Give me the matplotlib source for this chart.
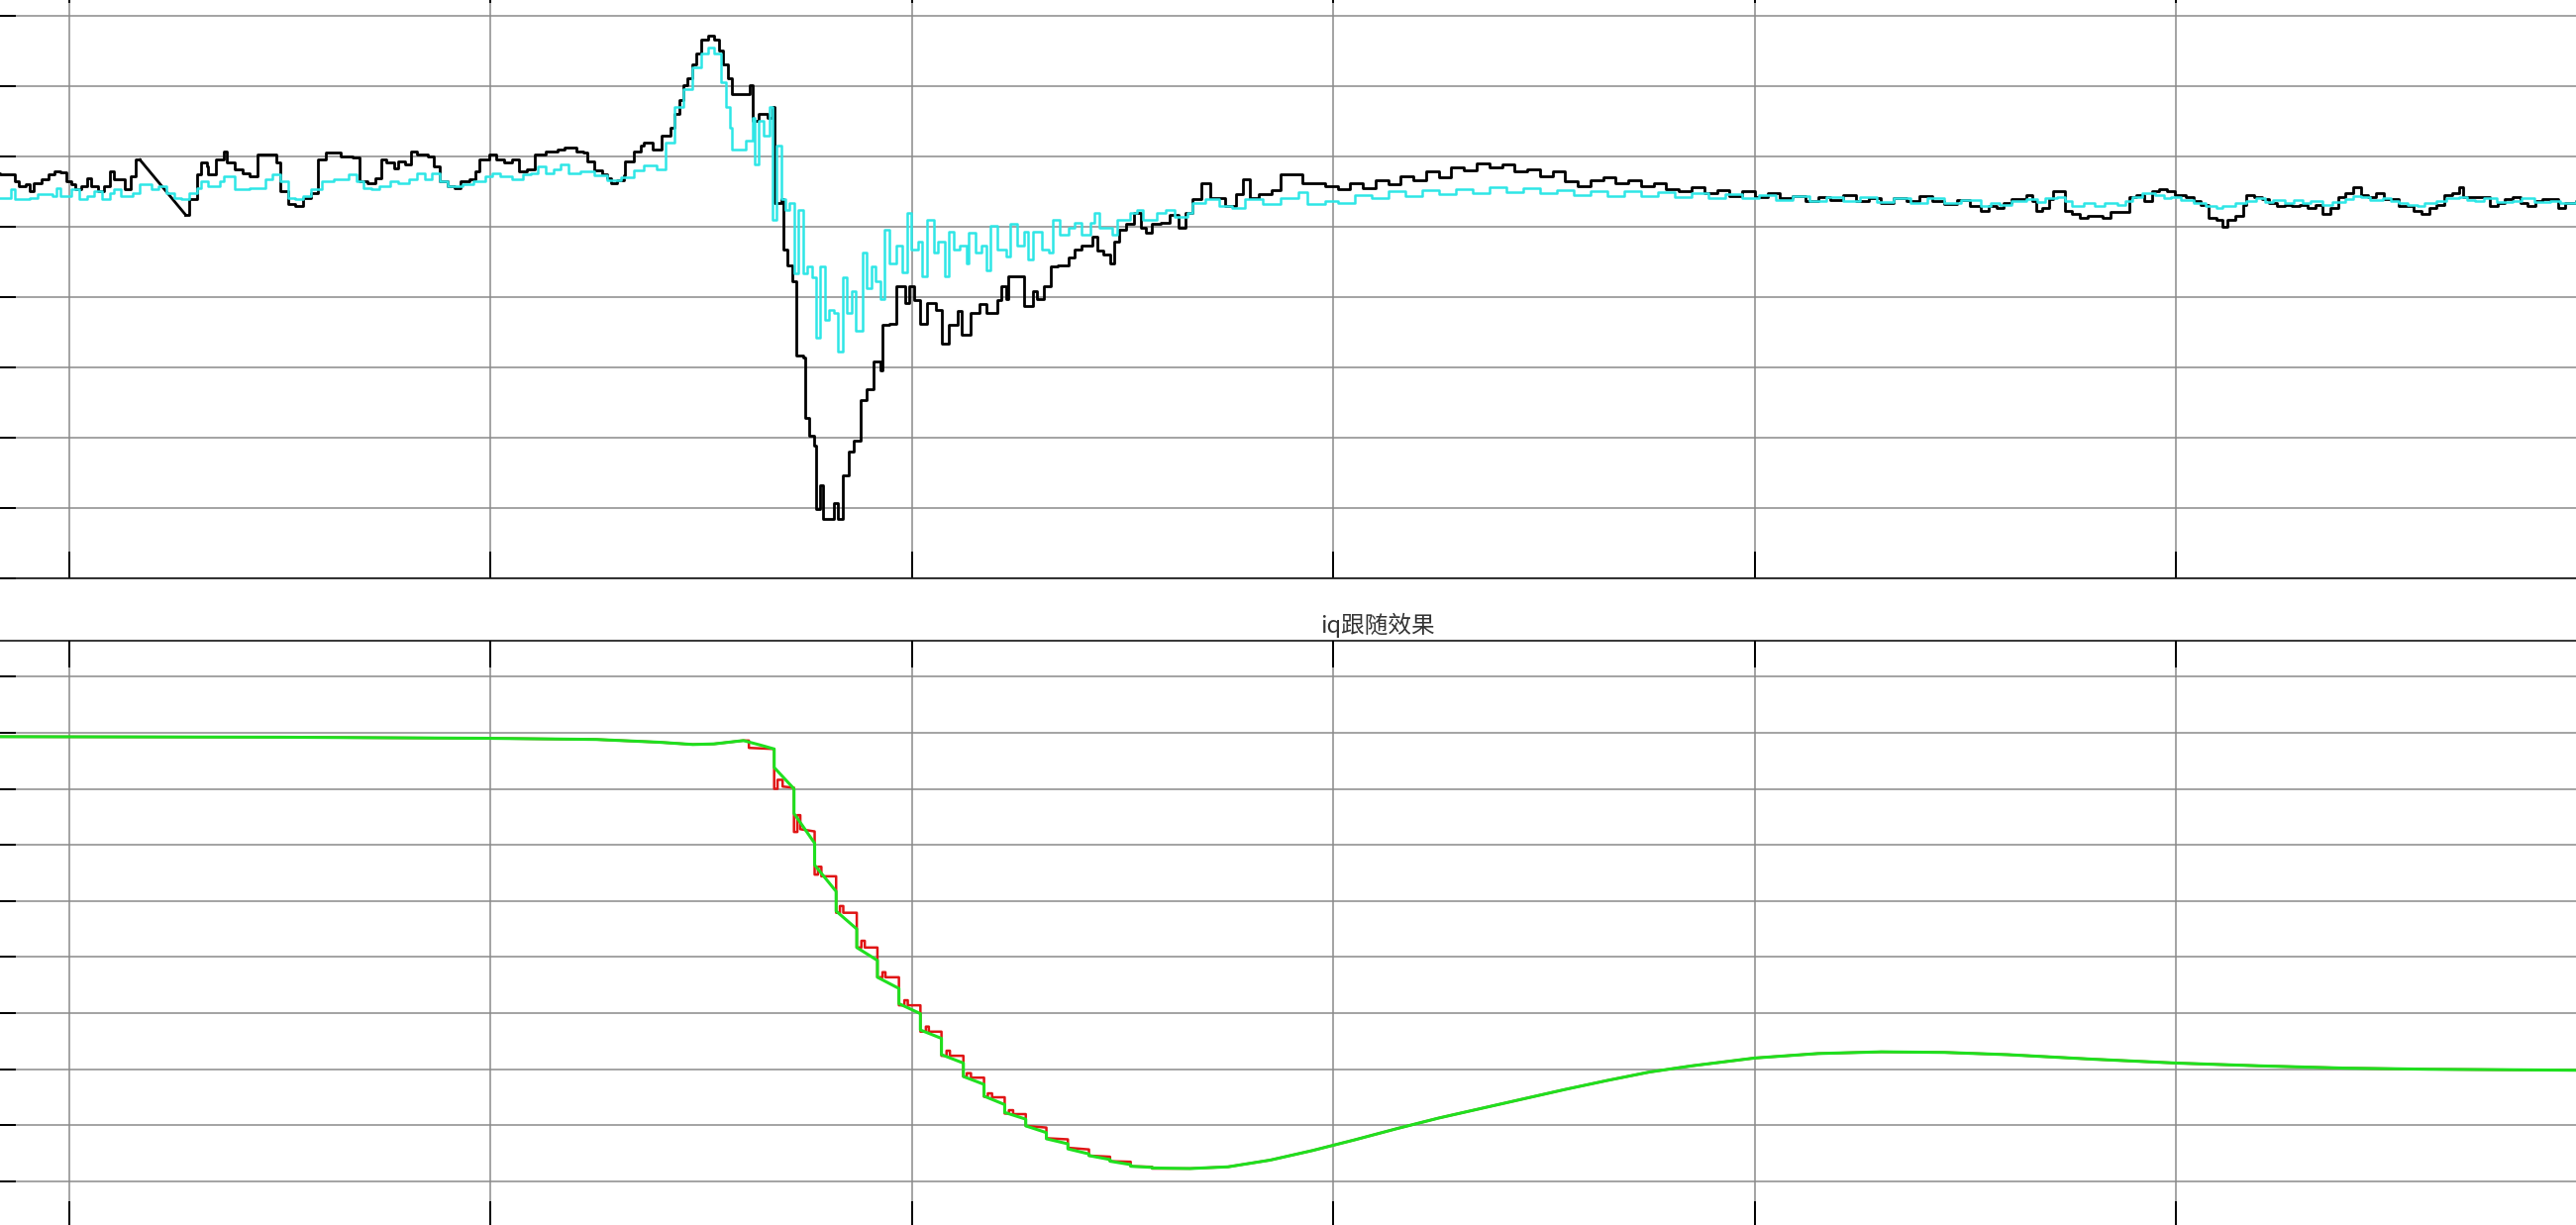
import matplotlib.pyplot as plt

plt.rcParams['font.family'] = ['Noto Sans CJK SC', 'DejaVu Sans']

# ---- upper plot: black and cyan traces (grid units) ----
black_a_t = [-0.19, -0.165, -0.142, -0.129, -0.120, -0.102, -0.093, -0.084, -0.066, -0.048, -0.034, -0.021,
             -0.007, 0.006, 0.015, 0.029, 0.042, 0.051, 0.069, 0.083, 0.096, 0.105, 0.132, 0.146, 0.159, 0.168]
black_a_v = [0.76, 0.74, 0.75, 0.65, 0.58, 0.60, 0.50, 0.62, 0.67, 0.74, 0.79, 0.77,
             0.65, 0.60, 0.53, 0.58, 0.69, 0.58, 0.50, 0.58, 0.79, 0.67, 0.53, 0.72, 0.95, 0.95]

black_gap_t = [0.168, 0.276]
black_gap_v = [0.95, 0.17]

black_b_t = [0.276, 0.285, 0.303, 0.312, 0.326, 0.330, 0.348, 0.366, 0.375, 0.393, 0.411, 0.429, 0.447, 0.474,
             0.492, 0.501, 0.519, 0.537, 0.555, 0.573, 0.591, 0.609, 0.645, 0.672, 0.690, 0.708, 0.726, 0.740,
             0.753, 0.771, 0.780, 0.798, 0.812, 0.825, 0.852, 0.866, 0.879, 0.897, 0.915, 0.929, 0.951, 0.965,
             0.974, 0.996, 1.014, 1.032, 1.050, 1.068, 1.086, 1.104, 1.131, 1.158, 1.176, 1.203, 1.221,
             1.229, 1.246, 1.265, 1.276, 1.286, 1.300, 1.316, 1.320, 1.340, 1.356,
             1.363, 1.384, 1.405, 1.426, 1.437, 1.447, 1.458, 1.468, 1.479, 1.489, 1.500, 1.516, 1.531, 1.542,
             1.552, 1.563, 1.573, 1.615, 1.621, 1.636, 1.657, 1.668, 1.673, 1.689, 1.694, 1.705, 1.715, 1.726,
             1.741, 1.747, 1.757, 1.767, 1.773, 1.783, 1.788, 1.815, 1.825, 1.836, 1.851, 1.862, 1.878, 1.893,
             1.909, 1.925, 1.930, 1.946, 1.962, 1.983, 1.993, 2.004, 2.019, 2.035, 2.056, 2.072, 2.087, 2.108,
             2.119, 2.140, 2.161, 2.177, 2.203, 2.213, 2.224, 2.229, 2.255, 2.266, 2.287, 2.297, 2.313, 2.329,
             2.345, 2.371, 2.387, 2.402, 2.429, 2.439, 2.455, 2.470, 2.481, 2.492, 2.507, 2.528, 2.544, 2.554,
             2.570, 2.591, 2.612, 2.633, 2.649, 2.665, 2.686, 2.707, 2.728, 2.743, 2.770, 2.785, 2.801, 2.822,
             2.853, 2.875, 2.917, 2.927, 2.948, 2.980,
             3.010, 3.04, 3.07, 3.10, 3.13, 3.16, 3.19, 3.22, 3.25, 3.28, 3.31, 3.34, 3.37, 3.40, 3.43, 3.46,
             3.49, 3.52, 3.55, 3.58, 3.61, 3.64, 3.67, 3.70, 3.73, 3.76, 3.79, 3.82, 3.85, 3.88, 3.91, 3.94,
             3.97, 4.00, 4.03, 4.06, 4.09, 4.12, 4.15, 4.18, 4.21, 4.24, 4.27, 4.30, 4.33, 4.36, 4.39, 4.42,
             4.45, 4.48, 4.51,
             4.537, 4.555, 4.573, 4.591, 4.609, 4.645, 4.659, 4.668, 4.681, 4.699, 4.708, 4.735, 4.753, 4.771,
             4.789, 4.825, 4.843, 4.888, 4.906, 4.924, 4.942, 4.960, 4.978, 4.996, 5.023, 5.041, 5.059, 5.077,
             5.095, 5.109, 5.122, 5.140, 5.158, 5.167, 5.185, 5.203, 5.221, 5.239, 5.257, 5.275, 5.293, 5.311,
             5.330, 5.348, 5.366, 5.384, 5.402, 5.420, 5.438, 5.456, 5.474, 5.492, 5.528, 5.564, 5.582, 5.600,
             5.618, 5.636, 5.654, 5.672, 5.681, 5.726, 5.744, 5.762, 5.780, 5.798, 5.816, 5.834, 5.852, 5.870,
             5.906, 5.924, 5.949, 6.00, 6.10, 6.20, 6.40]
black_b_v = [0.17, 0.39, 0.74, 0.91, 0.86, 0.74, 0.95, 1.07, 0.91, 0.81, 0.76, 0.72, 1.02, 1.02,
             0.91, 0.50, 0.32, 0.29, 0.41, 0.48, 0.95, 1.05, 1.00, 0.98, 0.65, 0.62, 0.69, 0.95,
             0.91, 0.83, 0.93, 0.88, 1.07, 1.02, 1.00, 0.86, 0.65, 0.58, 0.55, 0.65, 0.67, 0.79,
             0.95, 1.02, 0.95, 0.91, 0.95, 0.79, 0.81, 1.02, 1.07, 1.09, 1.12, 1.07, 1.05,
             0.93, 0.80, 0.75, 0.69, 0.62, 0.66, 0.73, 0.93, 1.07, 1.15,
             1.20, 1.10, 1.30, 1.40, 1.60, 1.80, 2.01, 2.11, 2.31, 2.46, 2.66, 2.71, 2.66, 2.51,
             2.31, 2.11, 1.88, 2.01, 1.50, 1.60, 1.55, 1.70, 0.34, 0.39, -0.32, -0.55, -0.77, -1.83,
             -1.86, -2.72, -2.97, -3.12, -4.01, -3.68, -4.16, -3.93, -4.16, -3.53, -3.20, -3.05, -2.46, -2.31,
             -1.91, -2.04, -1.40, -1.38, -0.85, -1.08, -0.85, -1.05, -1.38, -1.08, -1.18, -1.66, -1.40, -1.20,
             -1.53, -1.23, -1.10, -1.23, -1.05, -0.85, -1.03, -0.70, -0.70, -1.13, -0.92, -1.03, -0.85, -0.57,
             -0.55, -0.44, -0.32, -0.27, -0.14, -0.34, -0.39, -0.52, -0.22, -0.04, 0.04, 0.19, -0.02, -0.09,
             0.04, 0.06, 0.16, -0.02, 0.19, 0.39, 0.62, 0.41, 0.41, 0.29, 0.46, 0.67, 0.41, 0.46,
             0.52, 0.74, 0.74, 0.62, 0.62, 0.57,
             0.54, 0.62, 0.55, 0.66, 0.60, 0.72, 0.66, 0.78, 0.70, 0.84, 0.80, 0.90, 0.84, 0.88, 0.78, 0.82,
             0.72, 0.78, 0.64, 0.58, 0.66, 0.70, 0.62, 0.66, 0.58, 0.62, 0.54, 0.50, 0.56, 0.48, 0.52, 0.44,
             0.50, 0.42, 0.48, 0.40, 0.44, 0.36, 0.42, 0.38, 0.45, 0.36, 0.40, 0.34, 0.41, 0.36, 0.43, 0.37,
             0.32, 0.38, 0.30,
             0.23, 0.29, 0.26, 0.34, 0.39, 0.45, 0.37, 0.23, 0.26, 0.39, 0.50, 0.23, 0.18, 0.12,
             0.15, 0.12, 0.21, 0.42, 0.45, 0.37, 0.50, 0.53, 0.50, 0.45, 0.42, 0.37, 0.31, 0.12,
             0.10, 0.00, 0.10, 0.15, 0.31, 0.45, 0.42, 0.39, 0.34, 0.29, 0.31, 0.29, 0.31, 0.26,
             0.31, 0.18, 0.26, 0.42, 0.48, 0.56, 0.45, 0.42, 0.48, 0.39, 0.29, 0.23, 0.18, 0.26,
             0.31, 0.45, 0.48, 0.56, 0.42, 0.42, 0.29, 0.34, 0.39, 0.42, 0.34, 0.29, 0.37, 0.39,
             0.26, 0.34, 0.37, 0.34, 0.40, 0.35, 0.37]

cyan_t = [-0.19, -0.165, -0.138, -0.129, -0.093, -0.075, -0.039, -0.030, -0.021, 0.006, 0.024, 0.042, 0.060,
          0.078, 0.096, 0.105, 0.123, 0.150, 0.168, 0.195, 0.213, 0.231, 0.249, 0.267, 0.285, 0.303, 0.312,
          0.330, 0.357, 0.366, 0.393, 0.429, 0.465, 0.483, 0.501, 0.519, 0.537, 0.555, 0.573, 0.600, 0.627,
          0.663, 0.681, 0.699, 0.717, 0.735, 0.762, 0.780, 0.807, 0.825, 0.843, 0.861, 0.879, 0.897, 0.933,
          0.960, 0.987, 1.005, 1.023, 1.050, 1.077, 1.095, 1.113, 1.131, 1.149, 1.167, 1.185, 1.212,
          1.246, 1.276, 1.309, 1.340, 1.363, 1.395, 1.416, 1.437, 1.458, 1.479, 1.500, 1.516, 1.531, 1.547,
          1.558, 1.568, 1.573, 1.605, 1.621, 1.626, 1.636, 1.647, 1.663, 1.668, 1.678, 1.689, 1.699, 1.710,
          1.720, 1.731, 1.741, 1.752, 1.762, 1.773, 1.783, 1.794, 1.804, 1.815, 1.825, 1.836, 1.846, 1.857,
          1.867, 1.883, 1.893, 1.904, 1.914, 1.925, 1.935, 1.946, 1.962, 1.977, 1.988, 1.998, 2.014, 2.025,
          2.035, 2.051, 2.061, 2.077, 2.088, 2.098, 2.114, 2.129, 2.135, 2.150, 2.166, 2.177, 2.187, 2.203,
          2.224, 2.234, 2.250, 2.266, 2.276, 2.287, 2.308, 2.324, 2.334, 2.350, 2.371, 2.387, 2.402, 2.423,
          2.434, 2.444, 2.476, 2.486, 2.518, 2.534, 2.549, 2.581, 2.602, 2.623, 2.654, 2.665, 2.696, 2.728,
          2.759, 2.791, 2.833, 2.875, 2.917, 2.938, 2.980,
          3.01, 3.05, 3.09, 3.13, 3.17, 3.21, 3.25, 3.29, 3.33, 3.37, 3.41, 3.45, 3.49, 3.53, 3.57, 3.61,
          3.65, 3.69, 3.73, 3.77, 3.81, 3.85, 3.89, 3.93, 3.97, 4.01, 4.05, 4.09, 4.13, 4.17, 4.21, 4.25,
          4.29, 4.33, 4.37, 4.41, 4.45, 4.49,
          4.537, 4.56, 4.582, 4.61, 4.645, 4.67, 4.69, 4.717, 4.735, 4.753, 4.78, 4.807, 4.83, 4.861, 4.88,
          4.897, 4.92, 4.951, 4.97, 4.987, 5.01, 5.041, 5.07, 5.095, 5.11, 5.122, 5.14, 5.167, 5.19, 5.21,
          5.23, 5.257, 5.28, 5.30, 5.32, 5.348, 5.37, 5.402, 5.42, 5.438, 5.46, 5.49, 5.51, 5.528, 5.55,
          5.573, 5.59, 5.618, 5.64, 5.672, 5.69, 5.708, 5.73, 5.76, 5.798, 5.82, 5.85, 5.888, 5.91, 5.949,
          6.05, 6.20, 6.40]
cyan_v = [0.41, 0.41, 0.53, 0.39, 0.41, 0.46, 0.43, 0.55, 0.43, 0.53, 0.39, 0.43, 0.50,
          0.39, 0.48, 0.53, 0.43, 0.48, 0.60, 0.53, 0.58, 0.48, 0.41, 0.39, 0.48, 0.55, 0.65,
          0.58, 0.65, 0.72, 0.53, 0.55, 0.67, 0.74, 0.65, 0.41, 0.39, 0.43, 0.53, 0.65, 0.67,
          0.74, 0.65, 0.55, 0.53, 0.58, 0.65, 0.62, 0.67, 0.76, 0.67, 0.76, 0.65, 0.58, 0.60,
          0.65, 0.72, 0.76, 0.72, 0.67, 0.74, 0.76, 0.86, 0.76, 0.81, 0.88, 0.76, 0.79,
          0.73, 0.66, 0.70, 0.80, 0.87, 0.82, 1.20, 1.70, 1.95, 2.26, 2.46, 2.54, 2.46, 2.06,
          1.70, 1.40, 1.10, 1.22, 1.55, 0.89, 1.50, 1.30, 1.70, 0.09, 1.15, 0.39, 0.24, 0.34,
          -0.67, 0.24, -0.67, -0.57, -0.72, -1.58, -0.57, -1.33, -1.18, -1.23, -1.78, -0.72, -1.23, -0.92,
          -1.48, -0.37, -0.87, -0.57, -0.77, -1.03, -0.04, -0.52, -0.27, -0.65, 0.19, -0.32, -0.22, -0.70,
          0.09, -0.37, -0.22, -0.70, -0.07, -0.32, -0.27, -0.52, -0.09, -0.37, -0.27, -0.62, 0.01, -0.32,
          -0.42, 0.04, -0.27, -0.07, -0.47, -0.07, -0.32, -0.37, 0.09, -0.12, -0.02, 0.06, -0.12, 0.06,
          0.19, -0.02, -0.12, 0.09, 0.19, 0.24, 0.09, 0.19, 0.24, 0.14, 0.19, 0.34, 0.39, 0.29,
          0.26, 0.39, 0.32, 0.41, 0.49, 0.32, 0.36,
          0.34, 0.45, 0.40, 0.50, 0.44, 0.52, 0.46, 0.54, 0.48, 0.56, 0.49, 0.55, 0.47, 0.52, 0.45, 0.50,
          0.44, 0.50, 0.43, 0.49, 0.42, 0.48, 0.41, 0.46, 0.40, 0.45, 0.38, 0.44, 0.37, 0.42, 0.36, 0.42,
          0.35, 0.40, 0.34, 0.40, 0.33, 0.38,
          0.29, 0.34, 0.31, 0.36, 0.39, 0.35, 0.41, 0.42, 0.37, 0.29, 0.33, 0.29, 0.34, 0.31, 0.37,
          0.42, 0.47, 0.45, 0.40, 0.42, 0.38, 0.34, 0.30, 0.26, 0.30, 0.29, 0.34, 0.37, 0.40, 0.35,
          0.38, 0.34, 0.38, 0.33, 0.36, 0.31, 0.35, 0.39, 0.44, 0.42, 0.38, 0.41, 0.36, 0.34, 0.31,
          0.29, 0.33, 0.37, 0.41, 0.42, 0.38, 0.37, 0.40, 0.35, 0.37, 0.40, 0.35, 0.37, 0.33, 0.37,
          0.36, 0.38, 0.37]

# ---- lower plot: iq tracking ----
green_t = [-0.19, 0.50, 1.00, 1.25, 1.40, 1.48, 1.53, 1.60, 1.64, 1.673, 1.673, 1.720, 1.720, 1.769, 1.769,
           1.820, 1.820, 1.869, 1.869, 1.918, 1.918, 1.969, 1.969, 2.020, 2.020, 2.070, 2.070, 2.122, 2.122,
           2.171, 2.171, 2.220, 2.220, 2.270, 2.270, 2.319, 2.319, 2.370, 2.370, 2.420, 2.420, 2.470, 2.470,
           2.519, 2.519, 2.570, 2.570, 2.66, 2.75, 2.85, 2.95, 3.05, 3.15, 3.25, 3.35, 3.45, 3.55, 3.65,
           3.75, 3.85, 4.00, 4.15, 4.30, 4.45, 4.60, 4.80, 5.00, 5.20, 5.40, 5.60, 5.80, 6.00, 6.40]
green_v = [-0.07, -0.08, -0.10, -0.12, -0.17, -0.21, -0.20, -0.14, -0.22, -0.29, -0.62, -1.00, -1.44, -1.97, -2.36,
           -2.83, -3.18, -3.50, -3.83, -4.06, -4.36, -4.56, -4.83, -5.01, -5.30, -5.45, -5.74, -5.89, -6.13,
           -6.27, -6.48, -6.63, -6.77, -6.89, -7.01, -7.13, -7.24, -7.33, -7.42, -7.51, -7.54, -7.61, -7.64,
           -7.70, -7.73, -7.75, -7.76, -7.77, -7.74, -7.62, -7.45, -7.26, -7.06, -6.87, -6.70, -6.53, -6.36, -6.20,
           -6.05, -5.94, -5.80, -5.72, -5.69, -5.70, -5.74, -5.82, -5.89, -5.94, -5.98, -6.00, -6.01, -6.02, -6.03]

red_t = [-0.19, 0.50, 1.00, 1.25, 1.40, 1.48, 1.53, 1.60, 1.613, 1.613, 1.673, 1.673, 1.681, 1.681, 1.693, 1.693,
         1.720, 1.720, 1.728, 1.728, 1.735, 1.735, 1.769, 1.769, 1.777, 1.777, 1.785, 1.785, 1.820, 1.820,
         1.829, 1.829, 1.837, 1.837, 1.869, 1.869, 1.880, 1.880, 1.888, 1.888, 1.918, 1.918, 1.930, 1.930,
         1.937, 1.937, 1.969, 1.969, 1.982, 1.982, 1.990, 1.990, 2.020, 2.020, 2.033, 2.033, 2.040, 2.040,
         2.070, 2.070, 2.082, 2.082, 2.090, 2.090, 2.122, 2.122, 2.130, 2.130, 2.140, 2.140, 2.171, 2.171,
         2.180, 2.180, 2.190, 2.190, 2.220, 2.220, 2.230, 2.230, 2.240, 2.240, 2.270, 2.270, 2.319, 2.319,
         2.370, 2.370, 2.420, 2.420, 2.470, 2.470, 2.519, 2.519, 2.570, 2.570, 2.66, 2.75, 2.85, 2.95, 3.05,
         3.15, 3.25, 3.35, 3.45, 3.55, 3.65, 3.75, 3.85, 4.00, 4.15, 4.30, 4.45, 4.60, 4.80, 5.00, 5.20, 5.40,
         5.60, 5.80, 6.00, 6.40]
red_v = [-0.07, -0.08, -0.10, -0.12, -0.17, -0.21, -0.20, -0.14, -0.14, -0.27, -0.29, -1.00, -1.00, -0.84, -0.84, -0.96,
         -0.98, -1.77, -1.77, -1.47, -1.47, -1.72, -1.76, -2.53, -2.53, -2.39, -2.39, -2.56, -2.56, -3.21,
         -3.21, -3.09, -3.09, -3.21, -3.21, -3.83, -3.83, -3.71, -3.71, -3.83, -3.83, -4.36, -4.36, -4.27,
         -4.27, -4.36, -4.36, -4.86, -4.86, -4.77, -4.77, -4.86, -4.86, -5.33, -5.33, -5.24, -5.24, -5.33,
         -5.33, -5.76, -5.76, -5.67, -5.67, -5.76, -5.76, -6.13, -6.13, -6.07, -6.07, -6.15, -6.15, -6.49,
         -6.49, -6.43, -6.43, -6.50, -6.50, -6.79, -6.79, -6.73, -6.73, -6.80, -6.80, -7.01, -7.04, -7.23,
         -7.25, -7.40, -7.43, -7.54, -7.56, -7.64, -7.65, -7.73, -7.74, -7.77, -7.77, -7.74, -7.62, -7.45, -7.26,
         -7.06, -6.87, -6.70, -6.53, -6.36, -6.20, -6.05, -5.94, -5.80, -5.72, -5.69, -5.70, -5.74, -5.82, -5.89,
         -5.94, -5.98, -6.00, -6.01, -6.02, -6.03]

x_ticks = [0, 1, 2, 3, 4, 5, 6]
top_yticks = [-5, -4, -3, -2, -1, 0, 1, 2, 3]
bottom_yticks = [-8, -7, -6, -5, -4, -3, -2, -1, 0, 1]

W, H = 2601, 1237
fig = plt.figure(figsize=(W / 100, H / 100), dpi=100)
fig.patch.set_facecolor('white')

# the figure is a crop of a bigger window, so the axes run past the edges
ax1 = fig.add_axes([-11 / W, (H - 584) / H, 2804 / W, 608 / H])
ax2 = fig.add_axes([-11 / W, -3 / H, 2804 / W, 593 / H])

for ax in (ax1, ax2):
    ax.set_xlim(-0.19, 6.40)
    ax.set_xticks(x_ticks)
    ax.grid(True, color='#8a8a8a', linewidth=1.1)
    ax.set_axisbelow(True)
    ax.tick_params(direction='in', length=19.5, width=1.4, top=True, right=True,
                   labelbottom=False, labelleft=False)
    for s in ax.spines.values():
        s.set_linewidth(1.1)
        s.set_color('black')

ax1.set_ylim(-5.0, 3.56)
ax1.set_yticks(top_yticks)
ax1.plot(black_a_t, black_a_v, color='black', lw=2.0, drawstyle='steps-post')
ax1.plot(black_gap_t, black_gap_v, color='black', lw=2.0)
ax1.plot(black_b_t, black_b_v, color='black', lw=2.0, drawstyle='steps-post')
ax1.plot(cyan_t, cyan_v, color='#2ee6e6', lw=1.8, drawstyle='steps-post')

ax2.set_ylim(-8.83, 1.64)
ax2.set_yticks(bottom_yticks)
ax2.plot(red_t, red_v, color='#e01515', lw=1.8)
ax2.plot(green_t, green_v, color='#1fe01f', lw=2.2)
ax2.set_title('iq跟随效果', fontsize=17, color='#333333', pad=6)

plt.savefig('out.png', dpi=100)
plt.close()
